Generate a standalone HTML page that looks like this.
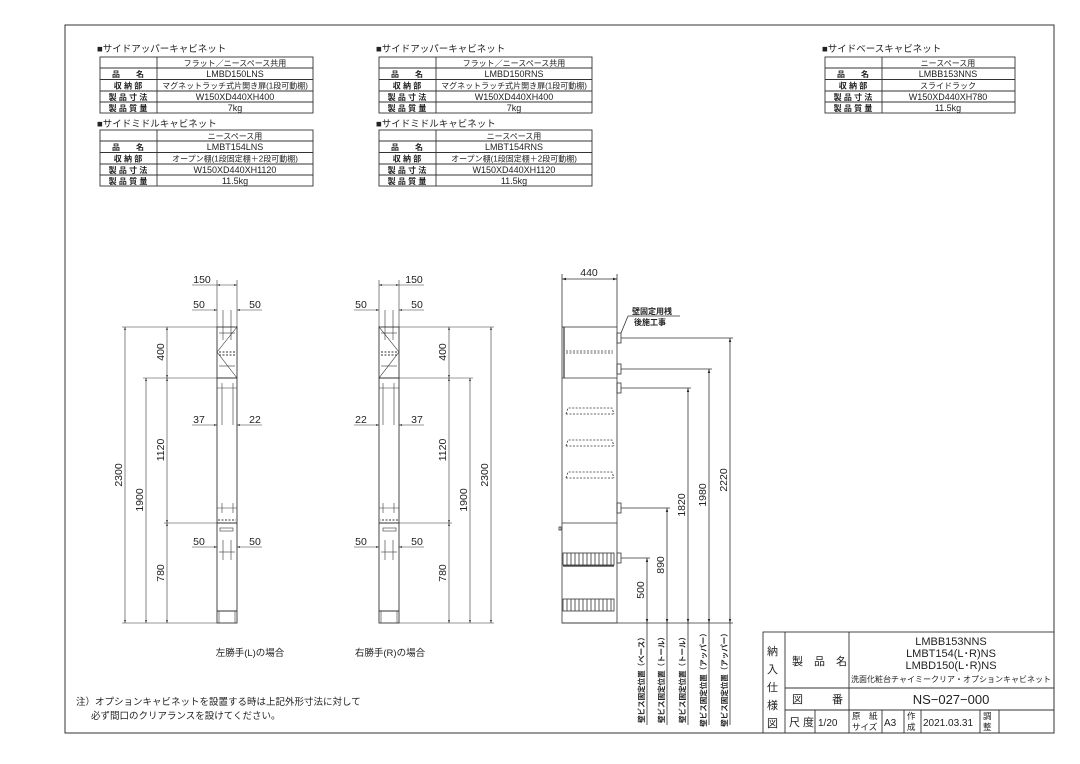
<!DOCTYPE html>
<html><head><meta charset="utf-8"><style>
html,body{margin:0;padding:0;background:#fff;}
svg{display:block;font-family:"Liberation Sans","Noto Sans CJK JP",sans-serif;}
text{fill:#222;}
</style></head><body>
<svg width="1080" height="764" viewBox="0 0 1080 764" xmlns="http://www.w3.org/2000/svg">
<defs>
<marker id="a" viewBox="0 0 10 10" refX="10" refY="5" markerWidth="5" markerHeight="5" orient="auto-start-reverse"><path d="M0,2L10,5L0,8z" fill="#222"/></marker>
</defs>
<g stroke="#333" fill="none" stroke-width="0.8">
<rect x="65" y="25" width="989" height="708" stroke-width="1"/>
</g>

<!-- Tables -->
<g font-size="9" text-anchor="middle">
<g stroke="#333" stroke-width="0.9" fill="none">
<rect x="100" y="57" width="213" height="56"/><line x1="157" y1="57" x2="157" y2="113"/>
<line x1="100" y1="68" x2="313" y2="68"/><line x1="100" y1="79.5" x2="313" y2="79.5"/><line x1="100" y1="91" x2="313" y2="91"/><line x1="100" y1="102" x2="313" y2="102"/>
<rect x="100" y="130" width="213" height="56"/><line x1="157" y1="130" x2="157" y2="186"/>
<line x1="100" y1="141" x2="313" y2="141"/><line x1="100" y1="152.5" x2="313" y2="152.5"/><line x1="100" y1="164" x2="313" y2="164"/><line x1="100" y1="175" x2="313" y2="175"/>
<rect x="379" y="57" width="213" height="56"/><line x1="436" y1="57" x2="436" y2="113"/>
<line x1="379" y1="68" x2="592" y2="68"/><line x1="379" y1="79.5" x2="592" y2="79.5"/><line x1="379" y1="91" x2="592" y2="91"/><line x1="379" y1="102" x2="592" y2="102"/>
<rect x="379" y="130" width="213" height="56"/><line x1="436" y1="130" x2="436" y2="186"/>
<line x1="379" y1="141" x2="592" y2="141"/><line x1="379" y1="152.5" x2="592" y2="152.5"/><line x1="379" y1="164" x2="592" y2="164"/><line x1="379" y1="175" x2="592" y2="175"/>
<rect x="825" y="57" width="190" height="56"/><line x1="882" y1="57" x2="882" y2="113"/>
<line x1="825" y1="68" x2="1015" y2="68"/><line x1="825" y1="79.5" x2="1015" y2="79.5"/><line x1="825" y1="91" x2="1015" y2="91"/><line x1="825" y1="102" x2="1015" y2="102"/>
</g>
<g text-anchor="start" font-size="9.5"><text x="97" y="52">■サイドアッパーキャビネット</text><text x="97" y="127">■サイドミドルキャビネット</text>
<text x="376" y="52">■サイドアッパーキャビネット</text><text x="376" y="127">■サイドミドルキャビネット</text>
<text x="822" y="52">■サイドベースキャビネット</text></g>
<g font-size="8" font-weight="bold">
<text x="128" y="77">品　　名</text><text x="128" y="88.5">収 納 部</text><text x="128" y="100">製 品 寸 法</text><text x="128" y="111">製 品 質 量</text>
<text x="128" y="150">品　　名</text><text x="128" y="161.5">収 納 部</text><text x="128" y="173">製 品 寸 法</text><text x="128" y="184">製 品 質 量</text>
<text x="407" y="77">品　　名</text><text x="407" y="88.5">収 納 部</text><text x="407" y="100">製 品 寸 法</text><text x="407" y="111">製 品 質 量</text>
<text x="407" y="150">品　　名</text><text x="407" y="161.5">収 納 部</text><text x="407" y="173">製 品 寸 法</text><text x="407" y="184">製 品 質 量</text>
<text x="853" y="77">品　　名</text><text x="853" y="88.5">収 納 部</text><text x="853" y="100">製 品 寸 法</text><text x="853" y="111">製 品 質 量</text>
</g>
<text x="235" y="66" font-size="8">フラット／ニースペース共用</text>
<text x="235" y="77">LMBD150LNS</text>
<text x="235" y="88.5" font-size="8">マグネットラッチ式片開き扉(1段可動棚)</text>
<text x="235" y="100">W150XD440XH400</text><text x="235" y="111">7kg</text>
<text x="235" y="139" font-size="8">ニースペース用</text>
<text x="235" y="150">LMBT154LNS</text>
<text x="235" y="161.5" font-size="8">オープン棚(1段固定棚＋2段可動棚)</text>
<text x="235" y="173">W150XD440XH1120</text><text x="235" y="184">11.5kg</text>
<text x="514" y="66" font-size="8">フラット／ニースペース共用</text>
<text x="514" y="77">LMBD150RNS</text>
<text x="514" y="88.5" font-size="8">マグネットラッチ式片開き扉(1段可動棚)</text>
<text x="514" y="100">W150XD440XH400</text><text x="514" y="111">7kg</text>
<text x="514" y="139" font-size="8">ニースペース用</text>
<text x="514" y="150">LMBT154RNS</text>
<text x="514" y="161.5" font-size="8">オープン棚(1段固定棚＋2段可動棚)</text>
<text x="514" y="173">W150XD440XH1120</text><text x="514" y="184">11.5kg</text>
<text x="948" y="66" font-size="8">ニースペース用</text>
<text x="948" y="77">LMBB153NNS</text>
<text x="948" y="88.5" font-size="8">スライドラック</text>
<text x="948" y="100">W150XD440XH780</text><text x="948" y="111">11.5kg</text>
</g>

<!-- Cabinet (left), mirrored for right -->
<g id="cab" stroke="#333" stroke-width="0.9" fill="none">
<rect x="217" y="327" width="20" height="296"/>
<line x1="217" y1="378" x2="237" y2="378"/><line x1="217" y1="523" x2="237" y2="523"/>
<polyline points="237,327 217,352 237,378" stroke-width="0.6"/>
<line x1="219" y1="352" x2="235" y2="352" stroke-dasharray="2,1.5"/>
<line x1="219" y1="355" x2="235" y2="355" stroke-dasharray="2,1.5"/>
<line x1="223" y1="310" x2="223" y2="340" stroke-width="0.6"/><line x1="231" y1="310" x2="231" y2="340" stroke-width="0.6"/>
<line x1="219" y1="333" x2="235" y2="333" stroke-width="0.6"/><line x1="219" y1="366" x2="235" y2="366" stroke-width="0.6"/>
<line x1="222" y1="383" x2="222" y2="425" stroke-width="0.6"/><line x1="233" y1="383" x2="233" y2="425" stroke-width="0.6"/>
<line x1="217" y1="388" x2="237" y2="388" stroke-width="0.6"/>
<line x1="222" y1="503" x2="222" y2="513" stroke-width="0.6"/><line x1="233" y1="503" x2="233" y2="513" stroke-width="0.6"/>
<line x1="217" y1="508" x2="237" y2="508" stroke-width="0.6"/>
<line x1="218" y1="520" x2="236" y2="520" stroke-dasharray="2,1.5"/>
<rect x="220" y="528" width="13" height="3" stroke-width="0.6"/>
<line x1="223" y1="540" x2="223" y2="560" stroke-width="0.6"/><line x1="231" y1="540" x2="231" y2="560" stroke-width="0.6"/>
<line x1="219" y1="552" x2="235" y2="552" stroke-width="0.6"/>
<line x1="217" y1="611" x2="237" y2="611"/>
<line x1="219" y1="611" x2="219" y2="623" stroke-width="0.6"/><line x1="235" y1="611" x2="235" y2="623" stroke-width="0.6"/>
</g>
<use href="#cab" transform="translate(616,0) scale(-1,1)"/>

<!-- dims -->
<g stroke="#333" stroke-width="0.6" fill="none">
<line x1="217" y1="280" x2="217" y2="327"/><line x1="237" y1="280" x2="237" y2="327"/>
<line x1="192" y1="285" x2="217" y2="285"/><line x1="217" y1="285" x2="237" y2="285" marker-start="url(#a)" marker-end="url(#a)"/>
<line x1="192" y1="310" x2="217" y2="310" marker-end="url(#a)"/><line x1="262" y1="310" x2="237" y2="310" marker-end="url(#a)"/>
<line x1="192" y1="425" x2="217" y2="425" marker-end="url(#a)"/><line x1="262" y1="425" x2="237" y2="425" marker-end="url(#a)"/>
<line x1="192" y1="547" x2="217" y2="547" marker-end="url(#a)"/><line x1="262" y1="547" x2="237" y2="547" marker-end="url(#a)"/>
<line x1="122" y1="327" x2="217" y2="327"/><line x1="143" y1="378" x2="217" y2="378"/><line x1="164" y1="523" x2="217" y2="523"/>
<line x1="122" y1="623" x2="217" y2="623"/>
<line x1="125" y1="327" x2="125" y2="623" marker-start="url(#a)" marker-end="url(#a)"/>
<line x1="146" y1="378" x2="146" y2="623" marker-start="url(#a)" marker-end="url(#a)"/>
<line x1="167" y1="327" x2="167" y2="378" marker-start="url(#a)" marker-end="url(#a)"/>
<line x1="167" y1="378" x2="167" y2="523" marker-start="url(#a)" marker-end="url(#a)"/>
<line x1="167" y1="523" x2="167" y2="623" marker-start="url(#a)" marker-end="url(#a)"/>
<line x1="379" y1="280" x2="379" y2="327"/><line x1="399" y1="280" x2="399" y2="327"/>
<line x1="399" y1="285" x2="424" y2="285"/><line x1="379" y1="285" x2="399" y2="285" marker-start="url(#a)" marker-end="url(#a)"/>
<line x1="354" y1="310" x2="379" y2="310" marker-end="url(#a)"/><line x1="424" y1="310" x2="399" y2="310" marker-end="url(#a)"/>
<line x1="354" y1="425" x2="379" y2="425" marker-end="url(#a)"/><line x1="424" y1="425" x2="399" y2="425" marker-end="url(#a)"/>
<line x1="354" y1="547" x2="379" y2="547" marker-end="url(#a)"/><line x1="424" y1="547" x2="399" y2="547" marker-end="url(#a)"/>
<line x1="399" y1="327" x2="494" y2="327"/><line x1="399" y1="378" x2="473" y2="378"/><line x1="399" y1="523" x2="452" y2="523"/>
<line x1="399" y1="623" x2="494" y2="623"/>
<line x1="491" y1="327" x2="491" y2="623" marker-start="url(#a)" marker-end="url(#a)"/>
<line x1="470" y1="378" x2="470" y2="623" marker-start="url(#a)" marker-end="url(#a)"/>
<line x1="449" y1="327" x2="449" y2="378" marker-start="url(#a)" marker-end="url(#a)"/>
<line x1="449" y1="378" x2="449" y2="523" marker-start="url(#a)" marker-end="url(#a)"/>
<line x1="449" y1="523" x2="449" y2="623" marker-start="url(#a)" marker-end="url(#a)"/>
</g>
<g font-size="10.5" text-anchor="middle">
<text x="202" y="283">150</text><text x="199" y="308">50</text><text x="255" y="308">50</text>
<text x="199" y="423">37</text><text x="255" y="423">22</text><text x="199" y="545">50</text><text x="255" y="545">50</text>
<text transform="translate(122,475) rotate(-90)">2300</text>
<text transform="translate(143,500) rotate(-90)">1900</text>
<text transform="translate(164,352) rotate(-90)">400</text>
<text transform="translate(164,450) rotate(-90)">1120</text>
<text transform="translate(164,573) rotate(-90)">780</text>
<text x="414" y="283">150</text><text x="361" y="308">50</text><text x="417" y="308">50</text>
<text x="361" y="423">22</text><text x="417" y="423">37</text><text x="361" y="545">50</text><text x="417" y="545">50</text>
<text transform="translate(446,352) rotate(-90)">400</text>
<text transform="translate(446,450) rotate(-90)">1120</text>
<text transform="translate(446,573) rotate(-90)">780</text>
<text transform="translate(467,500) rotate(-90)">1900</text>
<text transform="translate(488,475) rotate(-90)">2300</text>
<text x="250" y="656" font-size="9.5">左勝手(L)の場合</text>
<text x="390" y="656" font-size="9.5">右勝手(R)の場合</text>
</g>

<!-- Side view -->
<g stroke="#333" stroke-width="0.8" fill="none">
<line x1="562" y1="274" x2="562" y2="327"/><line x1="617" y1="274" x2="617" y2="327"/>
<line x1="562" y1="279" x2="617" y2="279" marker-start="url(#a)" marker-end="url(#a)"/>
<rect x="562" y="327" width="55" height="296"/>
<line x1="562" y1="378" x2="617" y2="378"/><line x1="562" y1="523" x2="617" y2="523"/>
<line x1="564" y1="327" x2="564" y2="378" stroke-width="1.2"/>
<line x1="566" y1="351" x2="613" y2="351" stroke-dasharray="2,1.5"/><line x1="566" y1="353" x2="613" y2="353" stroke-dasharray="2,1.5"/>
<path d="M566,414 L568,408 L612,408 L614,414 M566,414 L614,414" stroke-dasharray="2,1.5"/>
<path d="M566,446 L568,440 L612,440 L614,446 M566,446 L614,446" stroke-dasharray="2,1.5"/>
<path d="M566,478 L568,472 L612,472 L614,478 M566,478 L614,478" stroke-dasharray="2,1.5"/>
<rect x="563" y="553" width="51" height="12"/><rect x="563" y="599" width="51" height="12"/>
<path d="M567,553v12M571,553v12M575,553v12M579,553v12M583,553v12M587,553v12M591,553v12M595,553v12M599,553v12M603,553v12M607,553v12M611,553v12M567,599v12M571,599v12M575,599v12M579,599v12M583,599v12M587,599v12M591,599v12M595,599v12M599,599v12M603,599v12M607,599v12M611,599v12"/>
<line x1="563" y1="566" x2="614" y2="566" stroke-width="1.2"/>
<rect x="559" y="527" width="2" height="3"/>
<rect x="617" y="333" width="4" height="10"/><rect x="617" y="364" width="4" height="10"/><rect x="617" y="383" width="4" height="10"/>
<rect x="617" y="503" width="4" height="10"/><rect x="617" y="553" width="4" height="10"/>
<line x1="621" y1="333" x2="628" y2="316"/><line x1="628" y1="316" x2="680" y2="316"/>
<line x1="621" y1="338" x2="733" y2="338"/><line x1="621" y1="369" x2="712" y2="369"/><line x1="621" y1="388" x2="691" y2="388"/>
<line x1="621" y1="508" x2="670" y2="508"/><line x1="621" y1="558" x2="650" y2="558"/>
<line x1="562" y1="623" x2="733" y2="623"/>
<line x1="730" y1="338" x2="730" y2="623" marker-start="url(#a)" marker-end="url(#a)"/>
<line x1="709" y1="369" x2="709" y2="623" marker-start="url(#a)" marker-end="url(#a)"/>
<line x1="688" y1="388" x2="688" y2="623" marker-start="url(#a)" marker-end="url(#a)"/>
<line x1="667" y1="508" x2="667" y2="623" marker-start="url(#a)" marker-end="url(#a)"/>
<line x1="647" y1="558" x2="647" y2="623" marker-start="url(#a)" marker-end="url(#a)"/>
<path d="M730,623V725M709,623V725M688,623V725M667,623V725M647,623V725"/>
</g>
<g font-size="10.5" text-anchor="middle">
<text x="589" y="276">440</text>
<text x="652" y="314" font-size="8" font-weight="bold">壁固定用桟</text><text x="650" y="325" font-size="8" font-weight="bold">後施工事</text>
<text transform="translate(727,480) rotate(-90)">2220</text>
<text transform="translate(706,495) rotate(-90)">1980</text>
<text transform="translate(685,505) rotate(-90)">1820</text>
<text transform="translate(664,565) rotate(-90)">890</text>
<text transform="translate(644,590) rotate(-90)">500</text>
<g font-size="7.5" font-weight="bold">
<text transform="translate(644,678) rotate(-90)">壁ビス固定位置（ベース）</text>
<text transform="translate(664,678) rotate(-90)">壁ビス固定位置（トール）</text>
<text transform="translate(685,678) rotate(-90)">壁ビス固定位置（トール）</text>
<text transform="translate(706,678) rotate(-90)">壁ビス固定位置（アッパー）</text>
<text transform="translate(727,678) rotate(-90)">壁ビス固定位置（アッパー）</text>
</g>
</g>

<!-- Note -->
<g font-size="9.5"><text x="76" y="705">注）オプションキャビネットを設置する時は上記外形寸法に対して</text>
<text x="91" y="719">必ず間口のクリアランスを設けてください。</text></g>

<!-- Title block -->
<g stroke="#333" stroke-width="0.9" fill="none">
<rect x="763" y="632" width="291" height="101"/>
<line x1="785" y1="632" x2="785" y2="733"/><line x1="849" y1="632" x2="849" y2="710"/>
<line x1="785" y1="688" x2="1054" y2="688"/><line x1="785" y1="710" x2="1054" y2="710"/>
<line x1="815" y1="710" x2="815" y2="733"/><line x1="849" y1="710" x2="849" y2="733"/><line x1="882" y1="710" x2="882" y2="733"/>
<line x1="904" y1="710" x2="904" y2="733"/><line x1="921" y1="710" x2="921" y2="733"/><line x1="980" y1="710" x2="980" y2="733"/><line x1="999" y1="710" x2="999" y2="733"/>
</g>
<g font-size="11">
<text x="767" y="655">納</text><text x="767" y="673">入</text><text x="767" y="691">仕</text><text x="767" y="709">様</text><text x="767" y="727">図</text>
<text x="792" y="665">製　品　名</text><text x="792" y="703">図</text><text x="832" y="703">番</text>
<text x="789" y="726">尺 度</text><text x="818" y="726" font-size="10">1/20</text>
<text x="884" y="726" font-size="10">A3</text><text x="923" y="726" font-size="10">2021.03.31</text>
</g>
<g font-size="8.5"><text x="852" y="719">原　紙</text><text x="852" y="730">サイズ</text><text x="907" y="719">作</text><text x="907" y="730">成</text>
<text x="983" y="719">調</text><text x="983" y="730">整</text></g>
<g text-anchor="middle" font-size="11">
<text x="951" y="645">LMBB153NNS</text><text x="951" y="657">LMBT154(L･R)NS</text><text x="951" y="669">LMBD150(L･R)NS</text>
<text x="951" y="682" font-size="8" textLength="200" lengthAdjust="spacingAndGlyphs">洗面化粧台チャイミークリア・オプションキャビネット</text>
<text x="951" y="704" font-size="13">NS−027−000</text>
</g>
</svg>
</body></html>
